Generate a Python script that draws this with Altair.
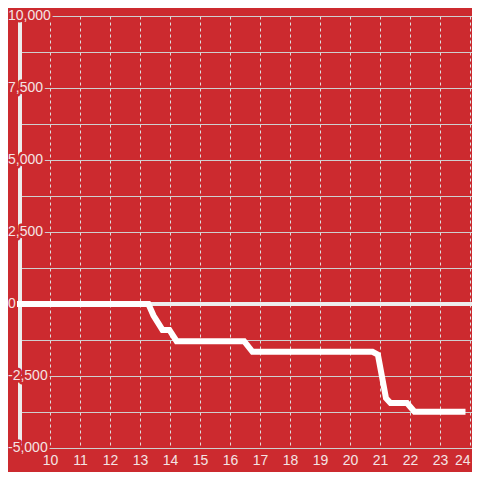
import altair as alt
import pandas as pd

# ---- data ----
hours = [8.9, 13.28, 13.45, 13.75, 13.98, 14.22, 16.47, 16.75, 20.75, 20.93, 21.2, 21.35, 21.9, 22.15, 23.85]
values = [0, 0, -400, -900, -900, -1290, -1290, -1660, -1660, -1760, -3270, -3440, -3440, -3740, -3740]

x_ticks = [10, 11, 12, 13, 14, 15, 16, 17, 18, 19, 20, 21, 22, 23, 24]
y_grid = [-5000, -3750, -2500, -1250, 0, 1250, 2500, 3750, 5000, 6250, 7500, 8750, 10000]
y_tick_values = [10000, 7500, 5000, 2500, 0, -2500, -5000]
y_tick_labels = ["10,000", "7,500", "5,000", "2,500", "0", "-2,500", "-5,000"]

BG = "#cc2a2f"
TXT = "#f4e4e4"
FONT = "Liberation Sans"
X_MAX = 24.0667

line_df = pd.DataFrame({"x": hours, "y": values})
labels_df = pd.DataFrame({"y": y_tick_values, "label": y_tick_labels})

X = alt.X(
    "x:Q",
    scale=alt.Scale(domain=[9, X_MAX], nice=False, zero=False),
    axis=alt.Axis(values=x_ticks, tickCount=40, format="d", grid=True, gridDash=[3, 3],
                  gridColor="#dedede", gridWidth=1, domain=False, ticks=False,
                  labelColor=TXT, labelFont=FONT, labelFontSize=14, labelPadding=5,
                  labelOverlap=False, labelFlush=4, title=None),
)
Y = alt.Y(
    "y:Q",
    scale=alt.Scale(domain=[-5000, 10000], nice=False, zero=False),
    axis=alt.Axis(values=y_grid, tickCount=40, grid=True, gridColor="#cfcfcf", gridWidth=1,
                  labels=False, ticks=False, domain=False, title=None),
)

bar = alt.Chart(line_df).mark_rule(color="#eeeeee", strokeWidth=3).encode(
    x=alt.datum(9), y=alt.datum(10000), y2=alt.datum(-5000)
)

halo = alt.Chart(labels_df).mark_text(
    align="left", baseline="middle", font=FONT, fontSize=14,
    fill=BG, stroke=BG, strokeWidth=5, strokeJoin="round"
).encode(x=alt.value(-12), y=Y, text="label:N")

text = alt.Chart(labels_df).mark_text(
    align="left", baseline="middle", font=FONT, fontSize=14, fill=TXT
).encode(x=alt.value(-12), y=Y, text="label:N")

zero = alt.Chart(line_df).mark_rule(color="#eeeeee", strokeWidth=3).encode(
    y=alt.datum(0), x=alt.datum(8.9), x2=alt.datum(X_MAX)
)

line = alt.Chart(line_df).mark_line(color="white", strokeWidth=6, strokeCap="butt").encode(
    x=X, y=Y
)

chart = alt.layer(bar, halo, text, zero, line).properties(
    width=452,
    height=432,
    autosize=alt.AutoSizeParams(type="none"),
    padding={"left": 12, "top": 8, "right": 0, "bottom": 24},
).configure(background=BG).configure_view(stroke=None)

chart.save("out.html", embed_options={"renderer": "svg", "actions": False})
